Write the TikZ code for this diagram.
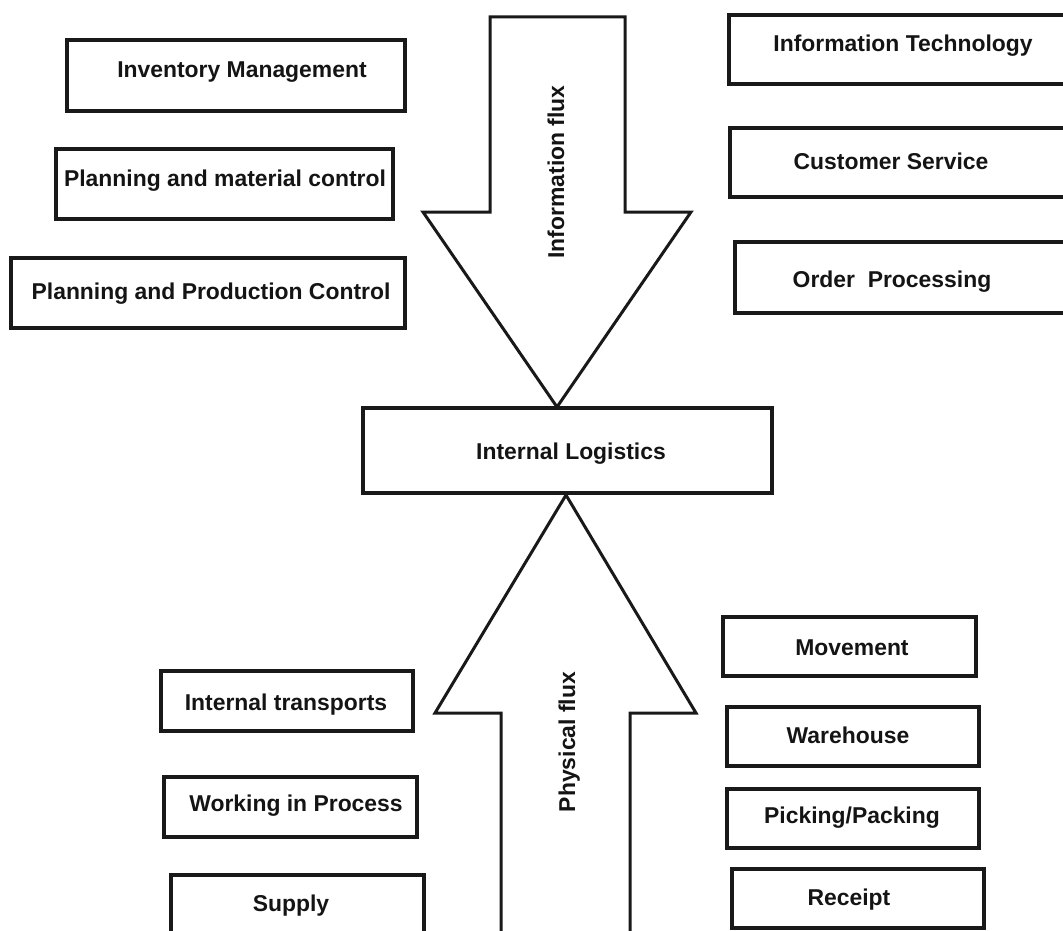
\documentclass[tikz,border=0pt]{standalone}
\usepackage{fontspec}
\setmainfont{Liberation Sans}
\begin{document}
\begin{tikzpicture}[x=1pt,y=-1pt,
  box/.style={draw=black!90, line width=3.3pt, rectangle, inner sep=0pt},
  lbl/.style={font=\fontsize{22.9}{27}\selectfont\bfseries, text=black!92, inner sep=0pt, text height=16.4pt, text depth=0pt},
  bigarrow/.style={draw=black!90, line width=3pt, line join=miter, fill=white}]
\useasboundingbox (0,0) rectangle (1063,931);
\clip (0,0) rectangle (1063,931);
% left top boxes
\node[box, minimum width=338pt, minimum height=71pt] (im) at (236,75.5) {};
\node[lbl] (imt) at (242,69) {Inventory Management};
\node[box, minimum width=337pt, minimum height=70pt] (pmc) at (224.5,184) {};
\node[lbl] (pmct) at (225,178) {Planning and material control};
\node[box, minimum width=394pt, minimum height=70pt] (ppc) at (208,293) {};
\node[lbl] (ppct) at (211,291) {Planning and Production Control};
% right top boxes
\node[box, minimum width=346pt, minimum height=69pt] (it) at (902,49.5) {};
\node[lbl] (itt) at (903,43) {Information Technology};
\node[box, minimum width=345pt, minimum height=69pt] (cs) at (902.5,162.5) {};
\node[lbl] (cst) at (891,161) {Customer Service};
\node[box, minimum width=340pt, minimum height=71pt] (op) at (905,277.5) {};
\node[lbl] (opt) at (892,279) {Order\ \ Processing};
% centre
\node[box, minimum width=409pt, minimum height=85pt] (il) at (567.5,450.5) {};
\node[lbl] (ilt) at (571,451) {Internal Logistics};
% right bottom boxes
\node[box, minimum width=253pt, minimum height=59pt] (mv) at (849.5,646.5) {};
\node[lbl] (mvt) at (852,647) {Movement};
\node[box, minimum width=252pt, minimum height=59pt] (wh) at (853,736.5) {};
\node[lbl] (wht) at (848,735) {Warehouse};
\node[box, minimum width=252pt, minimum height=59pt] (pp) at (853,818.5) {};
\node[lbl] (ppt) at (852,815) {Picking/Packing};
\node[box, minimum width=252pt, minimum height=59pt] (rc) at (858,898.5) {};
\node[lbl] (rct) at (849,897) {Receipt};
% left bottom boxes
\node[box, minimum width=252pt, minimum height=60pt] (itr) at (287,701) {};
\node[lbl] (itrt) at (286,702) {Internal transports};
\node[box, minimum width=253pt, minimum height=60pt] (wip) at (290.5,807) {};
\node[lbl] (wipt) at (296,803) {Working in Process};
\node[box, minimum width=253pt, minimum height=80pt] (sup) at (297.5,915) {};
\node[lbl] (supt) at (291,903) {Supply};
% information flux arrow
\coordinate (dtip) at (557,407);
\draw[bigarrow] (490,17) -- (625,17) -- (625,212) -- (691,212) -- (dtip) -- (423,212) -- (490,212) -- cycle;
\node[lbl, rotate=90] (inf) at (556,172) {Information flux};
% physical flux arrow
\coordinate (utip) at (566,495);
\draw[bigarrow] (501,945) -- (501,713) -- (435,713) -- (utip) -- (696,713) -- (630,713) -- (630,945);
\node[lbl, rotate=90] (phf) at (567,742) {Physical flux};
\end{tikzpicture}
\end{document}
